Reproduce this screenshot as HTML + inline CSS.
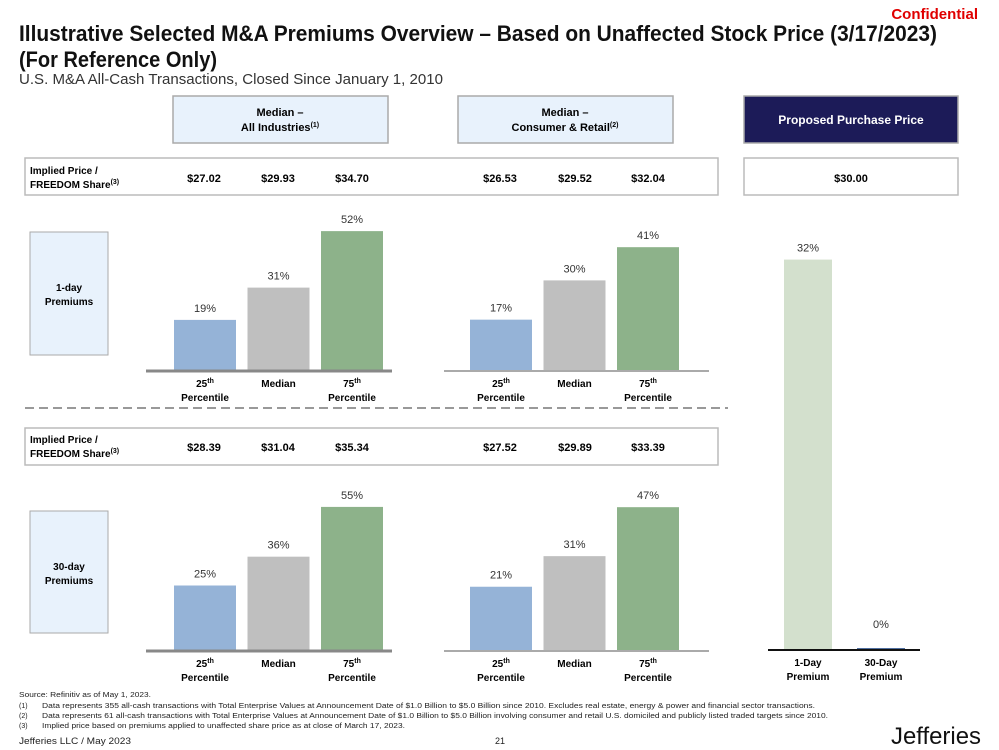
<!DOCTYPE html>
<html><head><meta charset="utf-8"><style>
body{margin:0;background:#fff}
svg{display:block;font-family:"Liberation Sans",sans-serif}
</style></head><body>
<svg id="s" width="999" height="750" viewBox="0 0 999 750" xmlns="http://www.w3.org/2000/svg">
<text x="978" y="19" text-anchor="end" font-size="15" font-weight="bold" fill="#e00000">Confidential</text>
<text x="19" y="41" font-size="22" font-weight="bold" fill="#111" textLength="918" lengthAdjust="spacingAndGlyphs">Illustrative Selected M&amp;A Premiums Overview – Based on Unaffected Stock Price (3/17/2023)</text>
<text x="19" y="67" font-size="22" font-weight="bold" fill="#111" textLength="198" lengthAdjust="spacingAndGlyphs">(For Reference Only)</text>
<text x="19" y="84" font-size="15" fill="#333" textLength="424" lengthAdjust="spacingAndGlyphs">U.S. M&amp;A All-Cash Transactions, Closed Since January 1, 2010</text>

<g><rect x="173" y="96" width="215" height="47" fill="#e8f2fc" stroke="#aaa" stroke-width="1.5"/>
<text x="280" y="116" text-anchor="middle" font-size="11" font-weight="bold">Median –</text>
<text x="280" y="131" text-anchor="middle" font-size="11" font-weight="bold">All Industries<tspan font-size="7" dy="-4">(1)</tspan></text></g>
<g><rect x="458" y="96" width="215" height="47" fill="#e8f2fc" stroke="#aaa" stroke-width="1.5"/>
<text x="565" y="116" text-anchor="middle" font-size="11" font-weight="bold">Median –</text>
<text x="565" y="131" text-anchor="middle" font-size="11" font-weight="bold">Consumer &amp; Retail<tspan font-size="7" dy="-4">(2)</tspan></text></g>
<g><rect x="744" y="96" width="214" height="47" fill="#1c1b58" stroke="#aaa" stroke-width="1.5"/>
<text x="851" y="124" text-anchor="middle" font-size="12" font-weight="bold" fill="#fff">Proposed Purchase Price</text></g>

<g><rect x="25" y="158" width="693" height="37" fill="#fff" stroke="#bbb" stroke-width="1.5"/>
<text x="30" y="174" font-size="10" font-weight="bold">Implied Price /</text>
<text x="30" y="188" font-size="10" font-weight="bold">FREEDOM Share<tspan font-size="7" dy="-4">(3)</tspan></text>
<g font-size="11" font-weight="bold" text-anchor="middle"><text x="204" y="182">$27.02</text><text x="278" y="182">$29.93</text><text x="352" y="182">$34.70</text><text x="500" y="182">$26.53</text><text x="575" y="182">$29.52</text><text x="648" y="182">$32.04</text></g></g>
<g><rect x="744" y="158" width="214" height="37" fill="#fff" stroke="#bbb" stroke-width="1.5"/>
<text x="851" y="182" text-anchor="middle" font-size="11" font-weight="bold">$30.00</text></g>

<g><rect x="30" y="232" width="78" height="123" fill="#e8f2fc" stroke="#aaa" stroke-width="1"/>
<text x="69" y="291" text-anchor="middle" font-size="10" font-weight="bold">1-day</text><text x="69" y="305" text-anchor="middle" font-size="10" font-weight="bold">Premiums</text></g>
<line x1="25" y1="408" x2="728" y2="408" stroke="#999" stroke-width="2" stroke-dasharray="9,5"/>
<g><rect x="25" y="428" width="693" height="37" fill="#fff" stroke="#bbb" stroke-width="1.5"/>
<text x="30" y="443" font-size="10" font-weight="bold">Implied Price /</text>
<text x="30" y="457" font-size="10" font-weight="bold">FREEDOM Share<tspan font-size="7" dy="-4">(3)</tspan></text>
<g font-size="11" font-weight="bold" text-anchor="middle"><text x="204" y="451">$28.39</text><text x="278" y="451">$31.04</text><text x="352" y="451">$35.34</text><text x="500" y="451">$27.52</text><text x="575" y="451">$29.89</text><text x="648" y="451">$33.39</text></g></g>
<g><rect x="30" y="511" width="78" height="122" fill="#e8f2fc" stroke="#aaa" stroke-width="1"/>
<text x="69" y="570" text-anchor="middle" font-size="10" font-weight="bold">30-day</text><text x="69" y="584" text-anchor="middle" font-size="10" font-weight="bold">Premiums</text></g>

<g id="charts"></g>

<g font-size="7" fill="#222">
<text x="19" y="697" textLength="132" lengthAdjust="spacingAndGlyphs">Source: Refinitiv as of May 1, 2023.</text>
<text x="19" y="708">(1)</text><text x="42" y="708" textLength="773" lengthAdjust="spacingAndGlyphs">Data represents 355 all-cash transactions with Total Enterprise Values at Announcement Date of $1.0 Billion to $5.0 Billion since 2010. Excludes real estate, energy &amp; power and financial sector transactions.</text>
<text x="19" y="718">(2)</text><text x="42" y="718" textLength="786" lengthAdjust="spacingAndGlyphs">Data represents 61 all-cash transactions with Total Enterprise Values at Announcement Date of $1.0 Billion to $5.0 Billion involving consumer and retail U.S. domiciled and publicly listed traded targets since 2010.</text>
<text x="19" y="728">(3)</text><text x="42" y="728" textLength="363" lengthAdjust="spacingAndGlyphs">Implied price based on premiums applied to unaffected share price as at close of March 17, 2023.</text>
</g>
<text x="19" y="744" font-size="9" fill="#222" textLength="112" lengthAdjust="spacingAndGlyphs">Jefferies LLC  /  May 2023</text>
<text x="500" y="744" font-size="9" fill="#222" text-anchor="middle">21</text>
<text x="981" y="744" font-size="24" fill="#111" text-anchor="end" textLength="90" lengthAdjust="spacingAndGlyphs">Jefferies</text>
</svg>
<script>
const categories = ["25th Percentile","Median","75th Percentile"];
const allInd1Day = [19,31,52];
const consumer1Day = [17,30,41];
const allInd30Day = [25,36,55];
const consumer30Day = [21,31,47];
const proposedCats = ["1-Day Premium","30-Day Premium"];
const proposedVals = [32,0];
const colors3 = ["#95b3d7","#bfbfbf","#8db28a"];
const NS = "http://www.w3.org/2000/svg";
const root = document.getElementById("charts");
function mk(tag, attrs, parent){const e=document.createElementNS(NS,tag);for(const k in attrs)e.setAttribute(k,attrs[k]);parent.appendChild(e);return e;}
function chart(name, vals, cats, x0, firstX, step, barW, base, scale, axisX1, axisX2, cols, axisCol, axisW){
  const g = mk("g",{},root);
  
  
  const y = v => base - v*scale;
  vals.forEach((v,i)=>{
    const x = firstX + i*step;
    const h = Math.max(base - y(v), 2);
    const r = mk("rect",{x:x,y:base-h,width:barW,height:h,fill:cols[i]},g);
    
    
    const t = mk("text",{x:x+barW/2,y:(v===0? base-22 : y(v)-8),"text-anchor":"middle","font-size":"11",fill:"#333"},g);
    t.textContent = v+"%";
    
    
    const parts = cats[i].split(" ");
    const l1 = mk("text",{x:x+barW/2,y:base+16,"text-anchor":"middle","font-size":"10","font-weight":"bold"},g);
    if(/^\d+th$/.test(parts[0])){l1.innerHTML = parts[0].replace("th","")+'<tspan font-size="7" dy="-4">th</tspan>';}
    else l1.textContent = parts[0];
    
    
    if(parts[1]){const l2 = mk("text",{x:x+barW/2,y:base+30,"text-anchor":"middle","font-size":"10","font-weight":"bold"},g);l2.textContent=parts[1];
      
      }
  });
  const ax = mk("line",{x1:axisX1,y1:base,x2:axisX2,y2:base,stroke:axisCol,"stroke-width":axisW},g);
  
  
}
chart("chart-1day-all-industries", allInd1Day, categories, 0, 174, 73.5, 62, 371, 2.69, 146, 392, colors3, "#888", 3);
chart("chart-1day-consumer", consumer1Day, categories, 0, 470, 73.5, 62, 371, 3.02, 444, 709, colors3, "#aaa", 2);
chart("chart-30day-all-industries", allInd30Day, categories, 0, 174, 73.5, 62, 651, 2.62, 146, 392, colors3, "#888", 3);
chart("chart-30day-consumer", consumer30Day, categories, 0, 470, 73.5, 62, 651, 3.06, 444, 709, colors3, "#aaa", 2);
chart("chart-proposed-premiums", proposedVals, proposedCats, 0, 784, 73, 48, 650, 12.2, 768, 920, ["#d3e0cd","#4f6fa0"], "#111", 2);
</script>
</body></html>
